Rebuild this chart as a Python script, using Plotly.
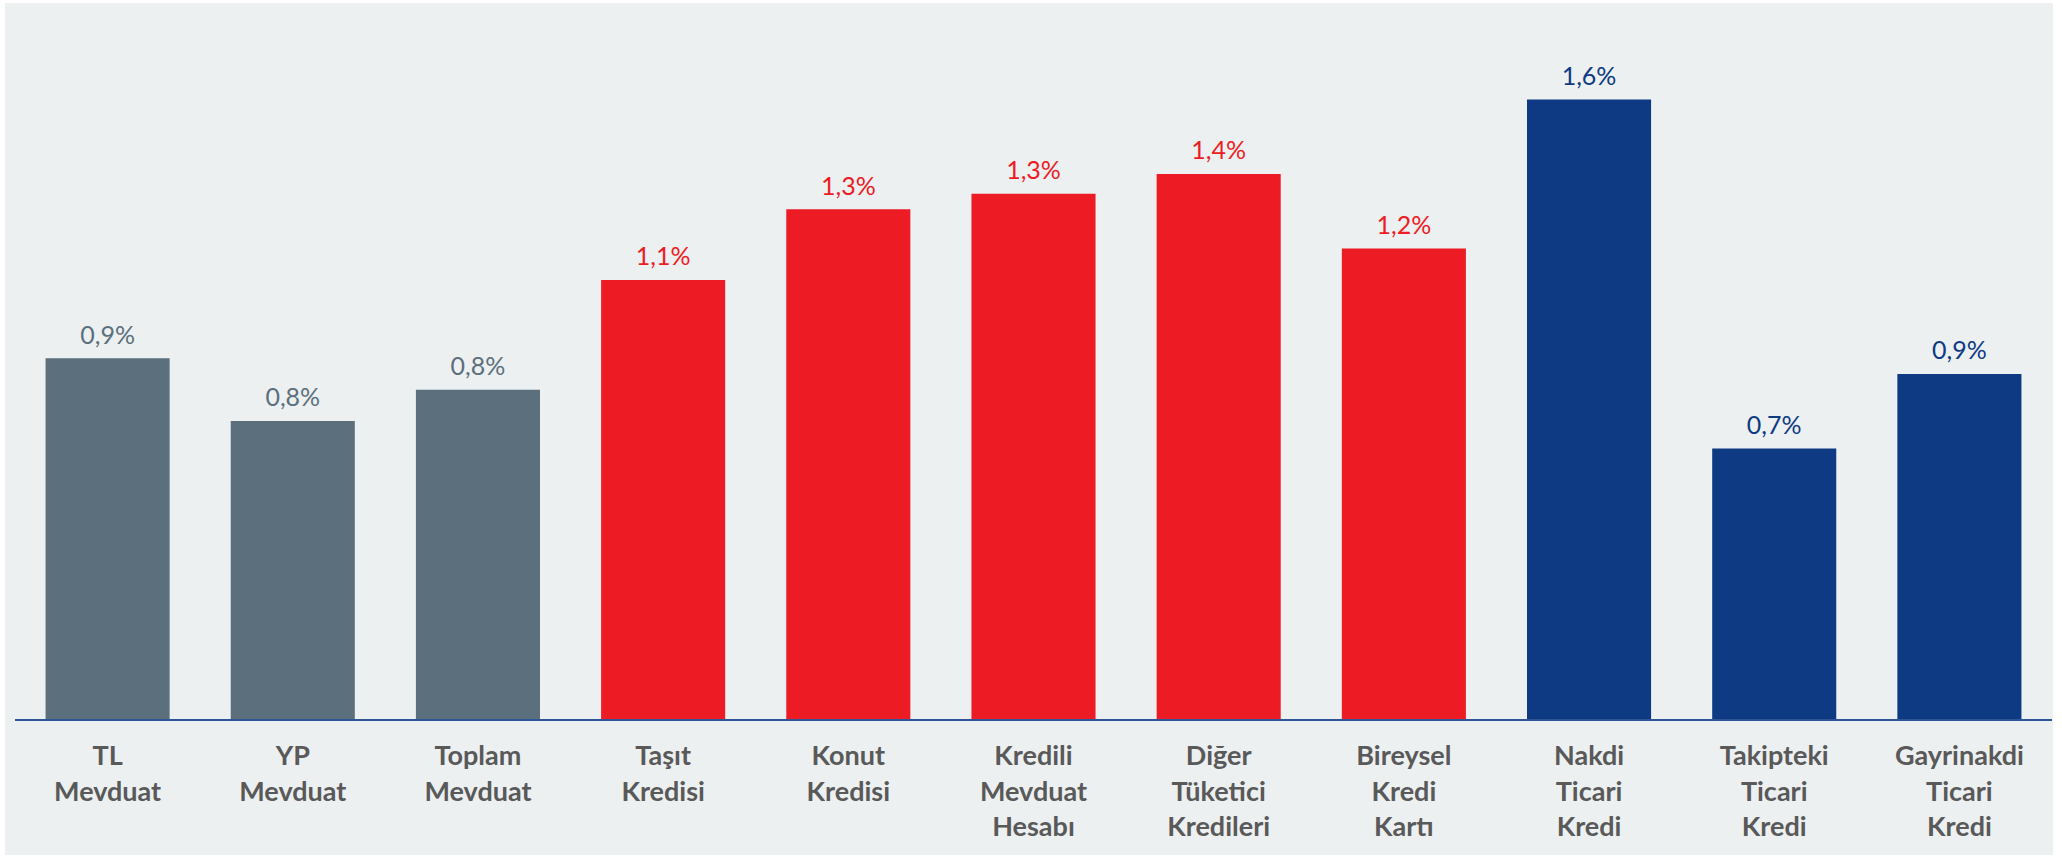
import plotly.graph_objects as go

categories = [
    "TL<br>Mevduat", "YP<br>Mevduat", "Toplam<br>Mevduat", "Taşıt<br>Kredisi",
    "Konut<br>Kredisi", "Kredili<br>Mevduat<br>Hesabı", "Diğer<br>Tüketici<br>Kredileri",
    "Bireysel<br>Kredi<br>Kartı", "Nakdi<br>Ticari<br>Kredi", "Takipteki<br>Ticari<br>Kredi",
    "Gayrinakdi<br>Ticari<br>Kredi",
]
values = [0.92, 0.76, 0.84, 1.12, 1.30, 1.34, 1.39, 1.20, 1.58, 0.69, 0.88]
groups = ["dep", "dep", "dep", "ret", "ret", "ret", "ret", "ret", "com", "com", "com"]

group_colors = {"dep": "#5B6F7C", "ret": "#ED1C24", "com": "#0E3A84"}
colors = [group_colors[g] for g in groups]

fig = go.Figure()
fig.add_trace(go.Bar(
    x=categories,
    y=values,
    marker=dict(color=colors, line=dict(width=0)),
    hoverinfo="skip",
))
fig.add_trace(go.Scatter(
    x=categories,
    y=values,
    mode="markers+text",
    marker=dict(size=12, opacity=0),
    texttemplate="%{y:.1f}%",
    textposition="top center",
    textfont=dict(family="Lato", size=25, color=colors),
    cliponaxis=False,
    hoverinfo="skip",
))

fig.update_layout(
    width=2062, height=858,
    margin=dict(l=15, r=10, t=20, b=139),
    paper_bgcolor="white",
    plot_bgcolor="rgba(0,0,0,0)",
    separators=",.",
    bargap=0.33,
    showlegend=False,
    shapes=[dict(
        type="rect", xref="paper", yref="paper", layer="below",
        x0=-0.0049, x1=1.0005, y0=-0.1946, y1=1.0243,
        fillcolor="#ECF0F1", line=dict(width=0),
    )],
    xaxis=dict(
        range=[-0.5, len(categories) - 0.5],
        showline=True, linecolor="#2F5597", linewidth=2,
        ticks="", showgrid=False, zeroline=False,
        ticklabelstandoff=12,
        tickfont=dict(family="Lato", size=27, color="#595959", weight="bold"),
    ),
    yaxis=dict(visible=False, range=[0, 1.783], showgrid=False, zeroline=False),
)

fig.write_html(
    "out.html",
    config={"displayModeBar": False},
    post_script="document.body.style.margin='0';",
)
